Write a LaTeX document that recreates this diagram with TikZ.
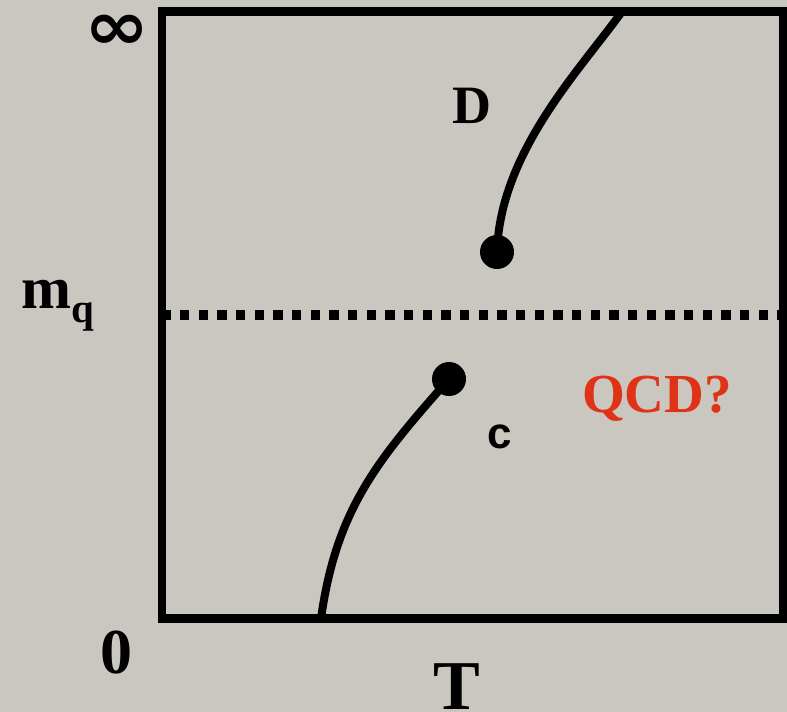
\documentclass[tikz,border=0pt]{standalone}
\usepackage{fontspec}
\setmainfont{Liberation Serif}
\setsansfont{Liberation Sans}
\newfontfamily\symfont{DejaVu Sans}
\definecolor{bgstone}{RGB}{201,199,191}
\definecolor{qcdred}{RGB}{224,50,22}
\begin{document}
\begin{tikzpicture}[x=1pt,y=-1pt,
  frame/.style={line width=8.5pt},
  curveline/.style={line width=8pt},
  critdot/.style={circle,fill=black,inner sep=0pt,minimum size=34pt},
  lab/.style={inner sep=0pt,font=\bfseries},
]
\fill[bgstone] (0,0) rectangle (787,712);
\useasboundingbox (0,0) rectangle (787,712);
% frame
\coordinate (tl) at (162,11.5);
\coordinate (br) at (783,618.5);
\draw[frame] (tl) rectangle (br);
% dotted m_q line
\coordinate (dl) at (161.33,315);
\coordinate (dr) at (787,315);
\draw[line width=9.5pt,dash pattern=on 9.3pt off 9.37pt] (dl) -- (dr);
% critical points
\node[critdot] (pD) at (497,252) {};
\node[critdot] (pC) at (449,379) {};
\coordinate (topend) at (622,11.5);
\coordinate (botend) at (321,618.5);
\draw[curveline] (pD.center) .. controls (500,152) and (580,70) .. (topend);
\draw[curveline] (botend) .. controls (336.4,508) and (378.6,459) .. (pC.center);
% labels
\node[lab,anchor=center,font=\symfont\bfseries\fontsize{68}{68}\selectfont] (inf) at (117,32) {\scalebox{1.15}[1]{∞}};
\node[lab,anchor=base west,font=\bfseries\fontsize{60}{60}\selectfont] (mq) at (21,308) {m\raisebox{-14pt}{\fontsize{41}{41}\selectfont q}};
\node[lab,anchor=base,font=\bfseries\fontsize{64}{64}\selectfont] (zero) at (116,673) {0};
\node[lab,anchor=base,font=\bfseries\fontsize{70}{70}\selectfont] (T) at (457,709) {T};
\node[lab,anchor=base,font=\bfseries\fontsize{54}{54}\selectfont] (D) at (471.5,123) {D};
\node[lab,anchor=base,font=\sffamily\bfseries\fontsize{44}{44}\selectfont] (c) at (499.5,448) {c};
\node[lab,anchor=base west,text=qcdred,font=\bfseries\fontsize{55}{55}\selectfont] (qcd) at (582,412) {QCD?};
\end{tikzpicture}
\end{document}
